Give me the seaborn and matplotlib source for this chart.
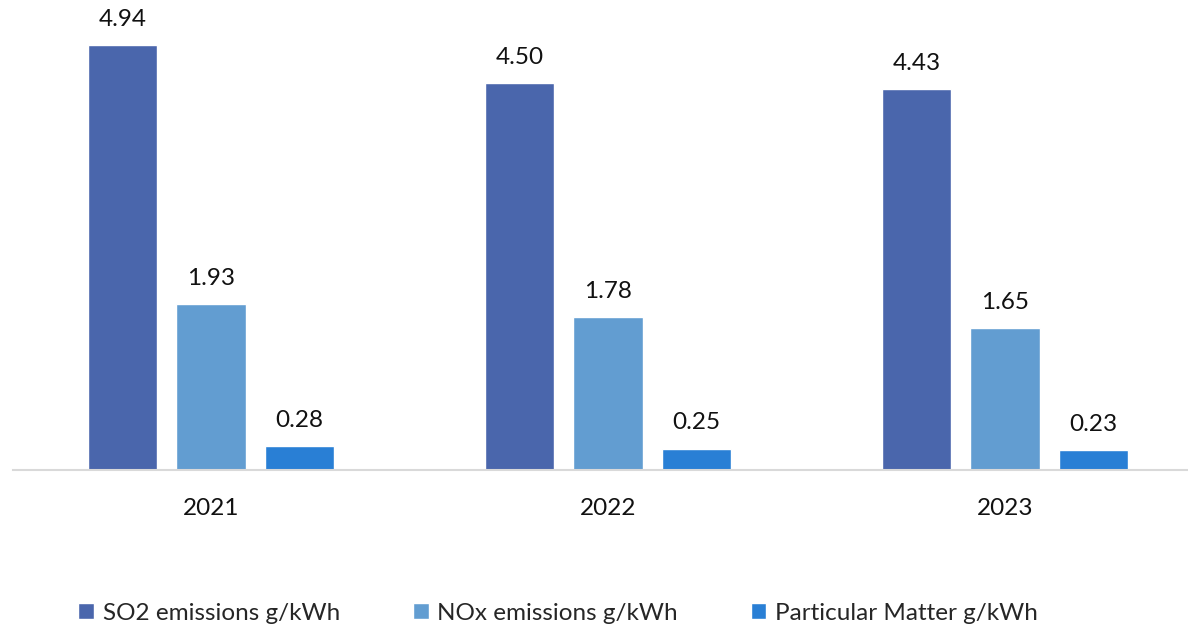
import pandas as pd
import matplotlib.pyplot as plt
import seaborn as sns

# values
years = ["2021", "2022", "2023"]
series = ["SO2 emissions g/kWh", "NOx emissions g/kWh", "Particular Matter g/kWh"]
so2 = [4.94, 4.50, 4.43]
nox = [1.93, 1.78, 1.65]
pm = [0.28, 0.25, 0.23]
colors = ["#4A66AC", "#629DD1", "#297FD5"]

df = pd.DataFrame({
    "Year": years * 3,
    "Series": [series[0]] * 3 + [series[1]] * 3 + [series[2]] * 3,
    "Value": so2 + nox + pm,
})

sns.set_theme(style="white")
plt.rcParams['font.family'] = ['Lato', 'DejaVu Sans']

fig = plt.figure(figsize=(11.88, 6.29), dpi=100)
ax = fig.add_axes([12.5 / 1188, 159 / 629, 3 * 397 / 1188, 470 / 629])

sns.barplot(data=df, x="Year", y="Value", hue="Series", palette=colors,
            width=0.67, gap=0.22, ax=ax, saturation=1, legend=True)

for cont in ax.containers:
    ax.bar_label(cont, fmt="%.2f", padding=11, fontsize=17.5, color="#111111")

ax.set_ylim(0, 470 / 86.0)
ax.set_xlim(-0.5, 2.5)
ax.set_yticks([])
ax.set_xlabel("")
ax.set_ylabel("")
for s in ["top", "right", "left"]:
    ax.spines[s].set_visible(False)
ax.spines["bottom"].set_color("#D9D9D9")
ax.spines["bottom"].set_linewidth(1.5)
ax.tick_params(axis="x", labelsize=17.5, pad=20, length=0, labelcolor="#111111")

handles, labels = ax.get_legend_handles_labels()
ax.get_legend().remove()
fig.legend(handles, labels, loc="center", bbox_to_anchor=(558 / 1188, 1 - 613 / 629),
           ncol=3, frameon=False, fontsize=17.5, handlelength=0.65, handleheight=0.65,
           handletextpad=0.35, columnspacing=3.0)

fig.savefig("out.png", dpi=100)
